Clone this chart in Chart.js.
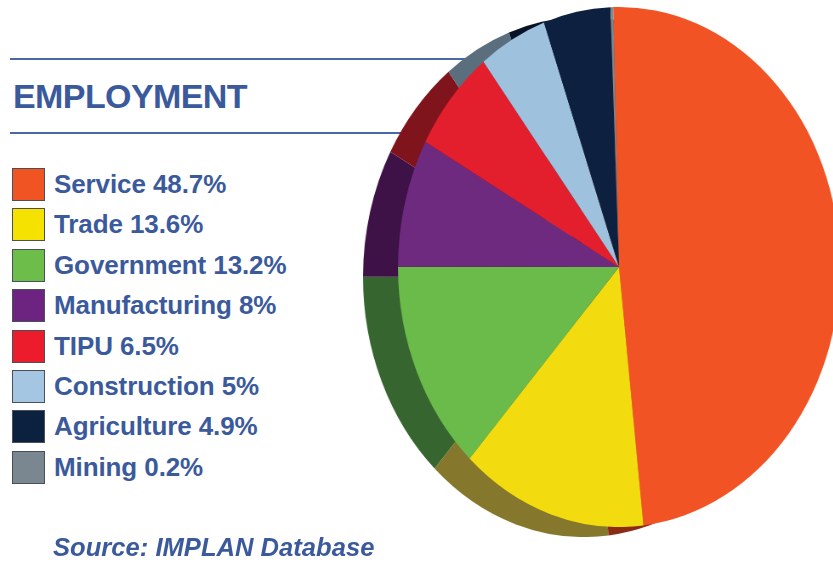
<!DOCTYPE html>
<html>
<head>
<meta charset="utf-8">
<script src="https://cdn.jsdelivr.net/npm/chart.js@4"></script>
<style>
  html, body { margin:0; padding:0; background:#fff; }
  body { width:833px; height:566px; overflow:hidden; position:relative; font-family:"Liberation Sans", Arial, sans-serif; }
  .rule { position:absolute; left:10px; height:2px; background:#4a67a6; }
  #title { position:absolute; left:13px; top:74px; font-size:34px; font-weight:bold; color:#3b5a9c; letter-spacing:-0.6px; line-height:44px; white-space:nowrap; }
  .pie { position:absolute; width:520px; height:520px; transform:scaleX(0.85); transform-origin:50% 50%; }
  #legend { position:absolute; left:12px; top:168px; }
  .row { position:relative; height:40.4px; }
  .sw { position:absolute; left:0; top:0; width:31px; height:31px; border:1px solid #4b4f57; }
  .lbl { position:absolute; left:42px; top:-1px; font-size:26px; font-weight:bold; color:#3b5a9c; letter-spacing:-0.1px; line-height:34px; white-space:nowrap; }
  #source { position:absolute; left:53px; top:532px; font-size:25.6px; font-weight:bold; font-style:italic; color:#3b5a9c; line-height:30px; white-space:nowrap; }
</style>
</head>
<body>
<div class="rule" style="top:58px; width:600px;"></div>
<div class="rule" style="top:132px; width:600px;"></div>
<div id="title">EMPLOYMENT</div>
<div class="pie" style="left:324px; top:17px;"><canvas id="side" width="520" height="520"></canvas></div>
<div class="pie" style="left:359px; top:7px;"><canvas id="face" width="520" height="520"></canvas></div>
<div id="legend"></div>
<div id="source">Source: IMPLAN Database</div>
<script>
const categories = ["Service", "Trade", "Government", "Manufacturing", "TIPU", "Construction", "Agriculture", "Mining"];
const shareLabels = ["48.7%", "13.6%", "13.2%", "8%", "6.5%", "5%", "4.9%", "0.2%"];
const shares = [48.7, 13.6, 13.2, 8, 6.5, 5, 4.9, 0.2];

const faceColors = ["#f15324", "#f2dc10", "#6abb4a", "#6e2a7e", "#e31e2d", "#9ec1de", "#0e203f", "#7a8890"];
const sideColors = ["#8c2b14", "#85782c", "#376530", "#3e1147", "#80141c", "#5a6e7e", "#081326", "#4a5258"];
const legendColors = ["#f05423", "#f6e200", "#6dbd4a", "#6c2480", "#ec1c2d", "#a4c6e3", "#0c2140", "#7b8790"];

function makePie(id, colors) {
  new Chart(document.getElementById(id), {
    type: 'pie',
    data: { labels: categories, datasets: [{ data: shares, backgroundColor: colors, borderWidth: 0 }] },
    options: {
      responsive: false,
      animation: false,
      rotation: -1.5,
      events: [],
      layout: { padding: 0 },
      plugins: { legend: { display: false }, tooltip: { enabled: false } }
    }
  });
}
makePie('side', sideColors);
makePie('face', faceColors);

const legend = document.getElementById('legend');
categories.forEach((c, i) => {
  const row = document.createElement('div');
  row.className = 'row';
  const sw = document.createElement('div');
  sw.className = 'sw';
  sw.style.background = legendColors[i];
  const lbl = document.createElement('div');
  lbl.className = 'lbl';
  lbl.textContent = c + ' ' + shareLabels[i];
  row.appendChild(sw); row.appendChild(lbl);
  legend.appendChild(row);
});
</script>
</body>
</html>
